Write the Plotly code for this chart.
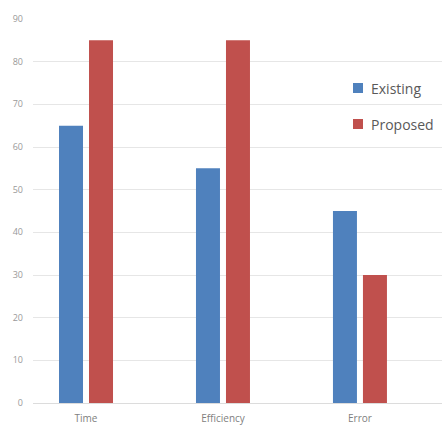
import plotly.graph_objects as go

categories = ["Time", "Efficiency", "Error"]
existing = [65, 55, 45]
proposed = [85, 85, 30]
y_ticks = [0, 10, 20, 30, 40, 50, 60, 70, 80, 90]
series_names = ["Existing", "Proposed"]
series_colors = ["#4F81BD", "#C0504D"]

xpos = list(range(len(categories)))

fig = go.Figure()
for name, vals, col in zip(series_names, [existing, proposed], series_colors):
    fig.add_trace(go.Bar(x=xpos, y=vals, name=name, marker=dict(color=col, line=dict(width=0)),
                         showlegend=False))

# Legend drawn as Excel-style keys (square + label)
leg_x0 = 353  # px
leg_y = [88, 124]  # px centres
W, H = 442, 425
ml, mr, mt, mb = 33, 0, 19, 22
pw, ph = W - ml - mr, H - mt - mb
for name, col, yc in zip(series_names, series_colors, leg_y):
    px0 = (leg_x0 - ml) / pw
    px1 = (leg_x0 + 10 - ml) / pw
    py0 = (H - mb - (yc + 5)) / ph
    py1 = (H - mb - (yc - 5)) / ph
    fig.add_shape(type="rect", xref="paper", yref="paper", x0=px0, x1=px1, y0=py0, y1=py1,
                  fillcolor=col, line=dict(width=0))
    fig.add_annotation(xref="paper", yref="paper", x=(leg_x0 + 16 - ml) / pw, y=(H - mb - yc) / ph,
                       text=name, showarrow=False, xanchor="left", yanchor="middle",
                       font=dict(size=14, color="#595959", family="Open Sans"))

fig.update_layout(
    width=W, height=H,
    margin=dict(l=ml, r=mr, t=mt, b=mb, autoexpand=False),
    paper_bgcolor="white", plot_bgcolor="white",
    barmode="group", bargap=0.562, bargroupgap=0.2,
    font=dict(family="Open Sans", color="#8a8a8a", size=9),
    xaxis=dict(tickmode="array", tickvals=xpos, ticktext=categories, range=[-0.387, 2.599],
               showgrid=False, zeroline=False, showline=False, ticks="", ticklabelstandoff=8,
               tickfont=dict(size=10, color="#808080")),
    yaxis=dict(range=[0, 90], tickvals=y_ticks, showgrid=True, gridcolor="#e6e6e6", gridwidth=1,
               zeroline=True, zerolinecolor="#dcdcdc", zerolinewidth=1, showline=False,
               ticks="", ticklabelstandoff=9, tickfont=dict(size=9, color="#999999")),
    showlegend=False,
)

fig.write_html("out.html")
